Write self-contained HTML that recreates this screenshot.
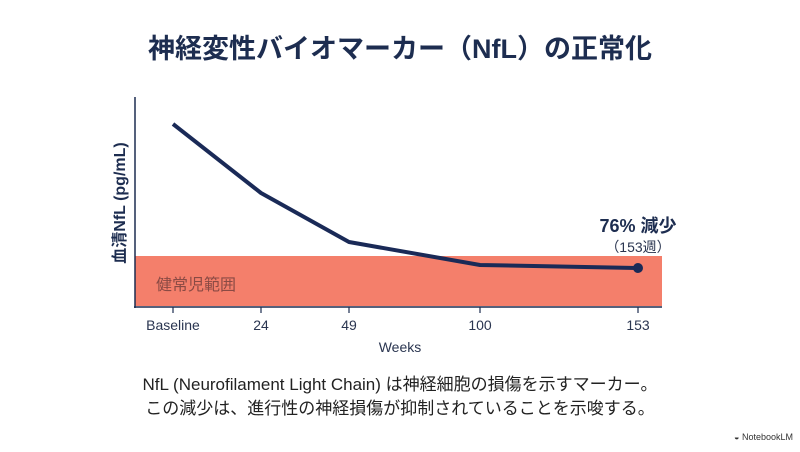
<!DOCTYPE html>
<html><head><meta charset="utf-8"><style>
body{margin:0;width:800px;height:447px;background:#fff;overflow:hidden;font-family:"Liberation Sans","Noto Sans CJK JP",sans-serif;}
</style></head><body>
<svg width="800" height="447" viewBox="0 0 800 447" xmlns="http://www.w3.org/2000/svg" style="font-family:'Liberation Sans','Noto Sans CJK JP',sans-serif">
<text x="400" y="58" text-anchor="middle" font-size="27" font-weight="bold" fill="#1d2d50">神経変性バイオマーカー（NfL）の正常化</text>
<rect x="135" y="256" width="527" height="50" fill="#f47f6b"/>
<text x="156" y="290" font-size="16" fill="#8a4a44">健常児範囲</text>
<line x1="135" y1="97" x2="135" y2="308" stroke="#1d2d50" stroke-width="1.5"/>
<line x1="134" y1="307" x2="662" y2="307" stroke="#1d2d50" stroke-width="1.5"/>
<g stroke="#1d2d50" stroke-width="1.2">
<line x1="173" y1="307" x2="173" y2="313"/><line x1="261" y1="307" x2="261" y2="313"/><line x1="349" y1="307" x2="349" y2="313"/><line x1="480" y1="307" x2="480" y2="313"/><line x1="638" y1="307" x2="638" y2="313"/>
</g>
<g font-size="14" fill="#2a3550" text-anchor="middle">
<text x="173" y="330">Baseline</text><text x="261" y="330">24</text><text x="349" y="330">49</text><text x="480" y="330">100</text><text x="638" y="330">153</text>
<text x="400" y="352">Weeks</text>
</g>
<text transform="translate(125,203) rotate(-90)" text-anchor="middle" font-size="16" font-weight="bold" fill="#1d2d50">血清NfL (pg/mL)</text>
<polyline points="173,124 261,193 349,242 480,265 638,268" fill="none" stroke="#1a2a57" stroke-width="4" stroke-linejoin="round"/>
<circle cx="638" cy="268" r="5" fill="#1a2a57"/>
<text x="638" y="232" text-anchor="middle" font-size="18" font-weight="bold" fill="#1d2d50">76% 減少</text>
<text x="638" y="252" text-anchor="middle" font-size="14" fill="#2a3550">（153週）</text>
<text x="400" y="390" text-anchor="middle" font-size="17" fill="#222">NfL (Neurofilament Light Chain) は神経細胞の損傷を示すマーカー。</text>
<text x="400" y="414" text-anchor="middle" font-size="17" fill="#222">この減少は、進行性の神経損傷が抑制されていることを示唆する。</text>
<text x="793" y="440" text-anchor="end" font-size="9" fill="#333">◒ NotebookLM</text>
</svg>
</body></html>
